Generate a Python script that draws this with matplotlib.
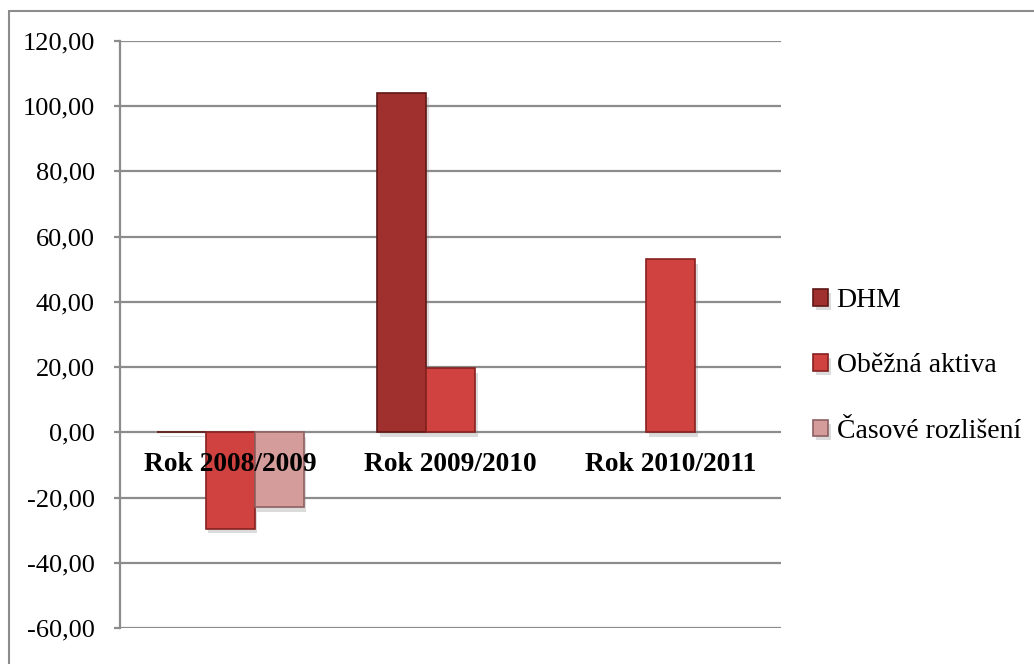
import matplotlib.pyplot as plt
import matplotlib.patheffects as pe
import numpy as np
from matplotlib.patches import Rectangle

categories = ['Rok 2008/2009', 'Rok 2009/2010', 'Rok 2010/2011']
series_names = ['DHM', 'Oběžná aktiva', 'Časové rozlišení']
dhm = [0.2, 104.0, np.nan]
obezna_aktiva = [-29.5, 19.6, 53.0]
casove_rozliseni = [-23.0, np.nan, np.nan]
y_ticks = [-60, -40, -20, 0, 20, 40, 60, 80, 100, 120]

colors = ['#A0302D', '#CF423F', '#D49C9B']
edges = ['#5E1816', '#86211F', '#8E6060']

plt.rcParams['font.family'] = ['Liberation Serif', 'DejaVu Serif']

fig = plt.figure(figsize=(10.34, 6.64), dpi=100)
ax = fig.add_axes([120 / 1034, 1 - 628 / 664, (781 - 120) / 1034, (628 - 41) / 664])

# outer chart border (cut off on the right and bottom like the original)
fig.patches.append(Rectangle((9 / 1034, -0.1), 1.2, 1 - 11 / 664 + 0.1,
                             transform=fig.transFigure, fill=False,
                             edgecolor='#8C8C8C', linewidth=1.5, zorder=0))

x = np.arange(len(categories))
width = 1 / 4.5  # gap width 150%
values = [dhm, obezna_aktiva, casove_rozliseni]
shadow = [pe.SimplePatchShadow(offset=(2, -3), shadow_rgbFace='#888888', alpha=0.3), pe.Normal()]
for i, vals in enumerate(values):
    pos = x + (i - 1) * width
    bars = ax.bar(pos, vals, width, color=colors[i], edgecolor=edges[i], linewidth=1.2,
                  label=series_names[i], zorder=3)
    for b in bars:
        b.set_path_effects(shadow)

ax.set_xlim(-0.5, 2.5)
ax.set_ylim(-60, 120)
ax.set_yticks(y_ticks)
ax.set_yticklabels([f'{v:.2f}'.replace('.', ',') for v in y_ticks], fontsize=19)
ax.yaxis.grid(True, color='#8C8C8C', linewidth=1.6, zorder=0)
ax.set_axisbelow(True)
ax.set_xticks([])
for side in ['top', 'right', 'bottom']:
    ax.spines[side].set_visible(False)
ax.spines['left'].set_color('#8C8C8C')
ax.spines['left'].set_linewidth(1.6)
ax.tick_params(axis='y', length=4, color='#8C8C8C', width=1.6, pad=14)

for xi, cat in zip(x, categories):
    ax.text(xi, -10, cat, ha='center', va='center', fontsize=19.8,
            fontweight='bold', zorder=5)

leg = ax.legend(loc='center left', bbox_to_anchor=(813 / 1034, 1 - 366 / 664),
                bbox_transform=fig.transFigure, frameon=False, fontsize=20,
                handlelength=0.55, handleheight=0.55, handletextpad=0.3,
                labelspacing=1.45, borderaxespad=0, borderpad=0)

fig.savefig('out.png', dpi=100)
